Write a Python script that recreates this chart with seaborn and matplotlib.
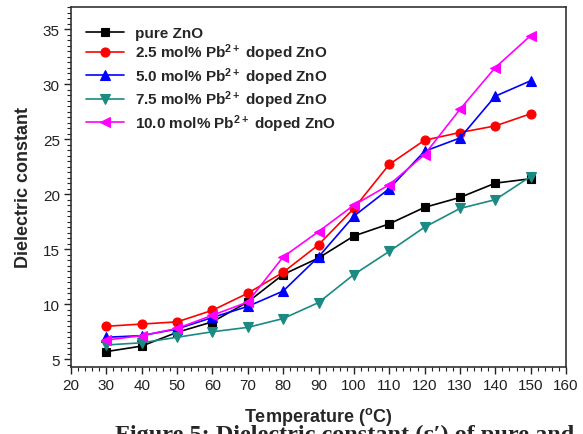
import matplotlib
matplotlib.use("Agg")
import matplotlib.pyplot as plt
from matplotlib.ticker import MultipleLocator
import seaborn as sns
import pandas as pd

temperature = [30, 40, 50, 60, 70, 80, 90, 100, 110, 120, 130, 140, 150]
pure_zno = [5.7, 6.2, 7.45, 8.4, 10.2, 12.7, 14.2, 16.2, 17.3, 18.8, 19.7, 21.0, 21.4]
pb_2_5 = [8.0, 8.2, 8.4, 9.45, 11.0, 12.9, 15.4, 18.7, 22.7, 24.9, 25.6, 26.2, 27.3]
pb_5_0 = [7.0, 7.15, 7.75, 8.8, 9.8, 11.2, 14.3, 18.0, 20.5, 23.9, 25.1, 28.9, 30.3]
pb_7_5 = [6.3, 6.5, 7.0, 7.5, 7.9, 8.7, 10.15, 12.7, 14.8, 17.0, 18.7, 19.5, 21.6]
pb_10_0 = [6.75, 7.15, 7.8, 9.0, 10.2, 14.3, 16.6, 19.0, 20.85, 23.6, 27.7, 31.5, 34.4]

labels = ["pure ZnO",
          r"2.5 mol% Pb$^{2+}$ doped ZnO",
          r"5.0 mol% Pb$^{2+}$ doped ZnO",
          r"7.5 mol% Pb$^{2+}$ doped ZnO",
          r"10.0 mol% Pb$^{2+}$ doped ZnO"]
series = [pure_zno, pb_2_5, pb_5_0, pb_7_5, pb_10_0]
colors = ["#000000", "#FF0000", "#0000FF", "#1A8A82", "#FF00FF"]
markers = ["s", "o", "^", "v", "<"]

sns.set_theme(style="ticks")
plt.rcParams["font.family"] = ["Liberation Sans", "DejaVu Sans"]
plt.rcParams["mathtext.fontset"] = "custom"
plt.rcParams["mathtext.rm"] = "Liberation Sans:bold"
plt.rcParams["mathtext.it"] = "Liberation Sans:bold"
plt.rcParams["mathtext.bf"] = "Liberation Sans:bold"
plt.rcParams["mathtext.default"] = "rm"

fig = plt.figure(figsize=(5.83, 4.35), dpi=100)
ax = fig.add_axes([71/583, 1-368/435, (566-71)/583, (368-8)/435])

rows = []
for lab, vals in zip(labels, series):
    for t, v in zip(temperature, vals):
        rows.append({"Temperature": t, "value": v, "series": lab})
df = pd.DataFrame(rows)

for lab, col, mk in zip(labels, colors, markers):
    sub = df[df["series"] == lab]
    sns.lineplot(data=sub, x="Temperature", y="value", ax=ax, color=col,
                 marker=mk, markersize=6.5 if mk != "s" else 5.8,
                 markeredgecolor=col, markeredgewidth=0.8,
                 linewidth=1.2, label=lab, estimator=None)

ax.set_xlim(20, 160)
ax.set_ylim(4.3, 37)
ax.xaxis.set_major_locator(MultipleLocator(10))
ax.xaxis.set_minor_locator(MultipleLocator(2))
ax.yaxis.set_major_locator(MultipleLocator(5))
ax.yaxis.set_minor_locator(MultipleLocator(0.5))
ax.tick_params(axis="both", which="major", direction="out", length=5, width=1,
               labelsize=11, pad=3, colors="#222222")
ax.tick_params(axis="both", which="minor", direction="out", length=3, width=0.8,
               colors="#222222")
ax.tick_params(top=False, right=False, which="both")
for sp in ax.spines.values():
    sp.set_linewidth(1.2)
    sp.set_color("#333333")

ax.set_xlabel(r"Temperature ($^{\mathrm{o}}$C)", fontsize=13, fontweight="bold", labelpad=9)
ax.set_ylabel("Dielectric constant", fontsize=13, fontweight="bold", labelpad=8)

leg = ax.legend(loc="upper left", bbox_to_anchor=(0.0, 0.99), frameon=False,
                prop={"weight": "bold", "size": 11}, handlelength=2.5,
                labelspacing=0.12, handletextpad=0.7, borderaxespad=0.6)

fig.text(115/583, 1-425/435, "Figure 5: Dielectric constant (\u03b5\u2032) of pure and",
         fontsize=17.5, fontweight="bold", family=["Liberation Serif", "DejaVu Serif"],
         va="top", ha="left")

fig.savefig("out.png", dpi=100)
